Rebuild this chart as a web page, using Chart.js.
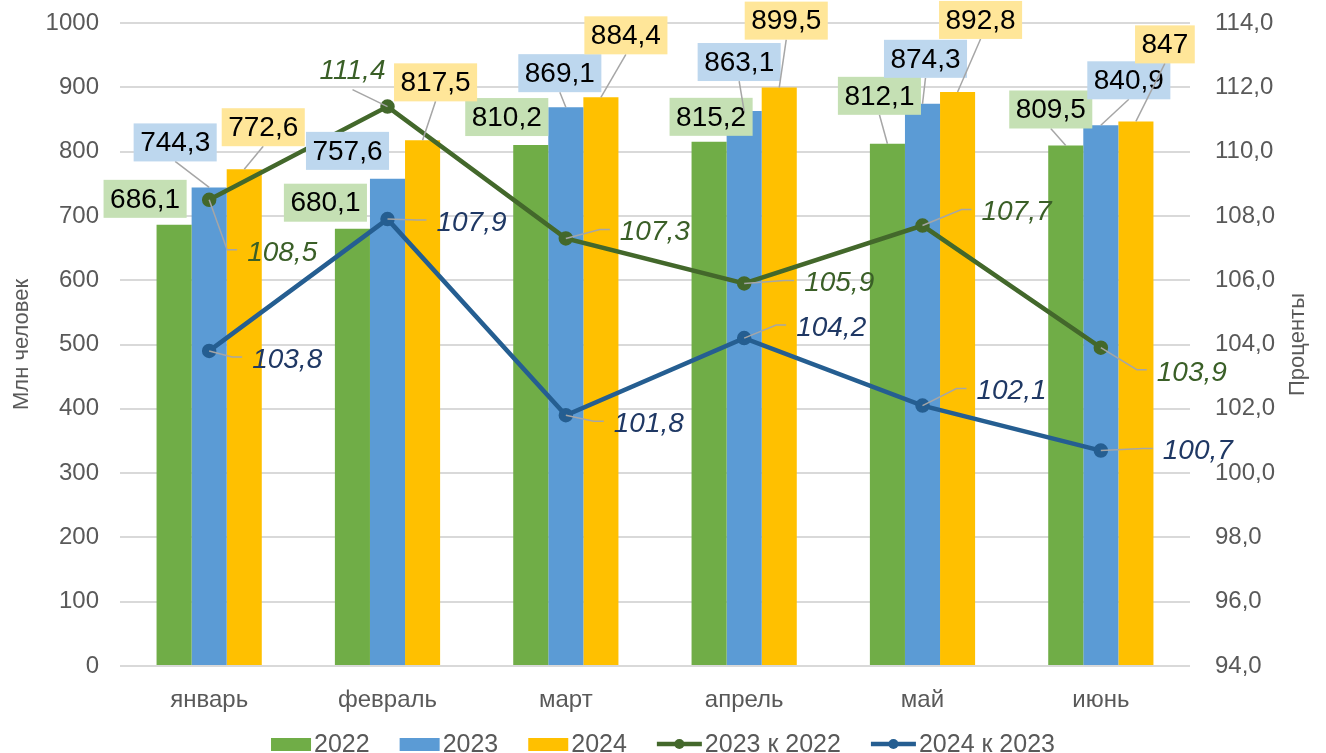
<!DOCTYPE html>
<html lang="ru">
<head>
<meta charset="utf-8">
<title>Пассажиропоток</title>
<script src="https://cdn.jsdelivr.net/npm/chart.js@4.4.1/dist/chart.umd.min.js"></script>
<style>
  html, body { margin: 0; padding: 0; background: #fff; }
  #wrap { width: 1326px; height: 753px; position: relative; }
</style>
</head>
<body>
<div id="wrap"><canvas id="chart"></canvas></div>
<script>
// -- ДАННЫЕ --
const months = ['январь', 'февраль', 'март', 'апрель', 'май', 'июнь'];
const v2022 = [686.1, 680.1, 810.2, 815.2, 812.1, 809.5];
const v2023 = [744.3, 757.6, 869.1, 863.1, 874.3, 840.9];
const v2024 = [772.6, 817.5, 884.4, 899.5, 892.8, 847];
const r2023to2022 = [108.5, 111.4, 107.3, 105.9, 107.7, 103.9];
const r2024to2023 = [103.8, 107.9, 101.8, 104.2, 102.1, 100.7];
const leftTicks = [0, 1000, 100];
const rightTicks = [94, 114, 2];

// -- РАСКЛАДКА ПОДПИСЕЙ (смещения от вершины столбца / точки) --
const barLabelShift = [
    [[-29, -26], [-27, -26], [-24, -28], [2, -25], [-8, -48], [-15, -36]],
    [[-34, -45], [-40, -28], [-6, -34], [-5, -49], [3, -45], [28, -45]],
    [[19, -42], [13, -58], [25, -62], [7, -67], [23, -72], [29, -77]]
];
const lineLabelShift = [
    [[73, 52], [-35, -36, 'bottom'], [89, -7], [95, -1], [94, -14], [91, 24]],
    [[78, 8], [84, 3], [83, 8], [87, -11], [89, -15], [97, 0]]
];

const FONT = '"Liberation Sans", Arial, sans-serif';
const AXIS_COLOR = '#595959';
const GREEN = '#70ad47', BLUE = '#5b9bd5', GOLD = '#ffc000';
const BOX_COLORS = ['#c5e0b4', '#bdd7ee', '#ffe699'];
const LINE_GREEN = '#43682b', LINE_BLUE = '#255e91';
const TEXT_COLORS = ['#3a5f27', '#1f3864'];

const fmt = v => String(v).replace('.', ',');

const labelsPlugin = {
    id: 'valueLabels',
    afterDatasetsDraw(chart) {
        const ctx = chart.ctx;
        ctx.save();
        ctx.textAlign = 'center';
        ctx.textBaseline = 'middle';

        // подписи столбцов в цветных рамках
        ctx.font = '28px ' + FONT;
        [0, 1, 2].forEach(di => {
            const meta = chart.getDatasetMeta(di);
            const values = chart.data.datasets[di].data;
            meta.data.forEach((bar, i) => {
                const [dx, dy] = barLabelShift[di][i];
                const cx = bar.x + dx, cy = bar.y + dy;
                const text = fmt(values[i]);
                const w = ctx.measureText(text).width + 13;
                const h = 38;
                const bottom = cy + h / 2;
                if (bar.y - bottom > 12) {
                    ctx.strokeStyle = '#a6a6a6';
                    ctx.lineWidth = 1.5;
                    ctx.beginPath();
                    ctx.moveTo(cx, bottom);
                    ctx.lineTo(bar.x, bar.y);
                    ctx.stroke();
                }
                ctx.fillStyle = BOX_COLORS[di];
                ctx.fillRect(cx - w / 2, cy - h / 2, w, h);
                ctx.fillStyle = '#000';
                ctx.fillText(text, cx, cy + 1);
            });
        });

        // курсивные подписи линий
        ctx.font = 'italic 28px ' + FONT;
        [3, 4].forEach((di, k) => {
            const meta = chart.getDatasetMeta(di);
            const values = chart.data.datasets[di].data;
            meta.data.forEach((pt, i) => {
                const [dx, dy, attach] = lineLabelShift[k][i];
                const cx = pt.x + dx, cy = pt.y + dy;
                const text = fmt(values[i]);
                const w = ctx.measureText(text).width;
                const left = cx - w / 2;
                ctx.strokeStyle = '#a6a6a6';
                ctx.lineWidth = 1.5;
                ctx.beginPath();
                ctx.moveTo(pt.x, pt.y);
                if (attach === 'bottom') {
                    ctx.lineTo(cx, cy + 19);
                } else {
                    ctx.lineTo(left - 20, cy - 2);
                    ctx.lineTo(left - 10, cy - 2);
                }
                ctx.stroke();
                ctx.fillStyle = TEXT_COLORS[k];
                ctx.fillText(text, cx, cy + 1);
            });
        });
        ctx.restore();
    },
    afterDraw(chart) {
        const ctx = chart.ctx;
        const area = chart.chartArea;
        ctx.save();

        // заголовок правой оси
        ctx.font = '22px ' + FONT;
        ctx.fillStyle = AXIS_COLOR;
        ctx.textAlign = 'center';
        ctx.textBaseline = 'middle';
        ctx.translate(chart.scales.y1.right - 28, (area.top + area.bottom) / 2);
        ctx.rotate(-Math.PI / 2);
        ctx.fillText('Проценты', 0, 0);
        ctx.setTransform(1, 0, 0, 1, 0, 0);

        // легенда
        ctx.font = '25px ' + FONT;
        ctx.textAlign = 'left';
        const items = chart.data.datasets.map(ds => ({
            text: ds.label,
            color: ds.type === 'line' ? ds.borderColor : ds.backgroundColor,
            line: ds.type === 'line'
        }));
        const gap = 30, mark = 40, markLine = 45;
        let total = 0;
        items.forEach(it => {
            it.w = (it.line ? markLine : mark) + 3 + ctx.measureText(it.text).width;
            total += it.w;
        });
        total += gap * (items.length - 1);
        let x = chart.width / 2 - total / 2;
        const y = 744;
        items.forEach(it => {
            ctx.fillStyle = it.color;
            if (it.line) {
                ctx.strokeStyle = it.color;
                ctx.lineWidth = 4.5;
                ctx.beginPath();
                ctx.moveTo(x, y);
                ctx.lineTo(x + markLine, y);
                ctx.stroke();
                ctx.beginPath();
                ctx.arc(x + markLine / 2, y, 5, 0, Math.PI * 2);
                ctx.fill();
                x += markLine + 3;
            } else {
                ctx.fillRect(x, y - 6, mark, 13);
                x += mark + 3;
            }
            ctx.fillStyle = AXIS_COLOR;
            ctx.fillText(it.text, x, y + 1);
            x += ctx.measureText(it.text).width + gap;
        });
        ctx.restore();
    }
};

document.addEventListener('DOMContentLoaded', function () {
    Chart.defaults.font.family = FONT;
    Chart.defaults.color = AXIS_COLOR;

    const barSet = (label, data, color) => ({
        type: 'bar', label, data,
        backgroundColor: color,
        yAxisID: 'y',
        order: 1,
        categoryPercentage: 0.59,
        barPercentage: 1
    });
    const lineSet = (label, data, color) => ({
        type: 'line', label, data,
        borderColor: color,
        backgroundColor: color,
        pointBackgroundColor: color,
        pointBorderColor: color,
        borderWidth: 4.5,
        pointRadius: 5,
        tension: 0,
        yAxisID: 'y1',
        order: 0
    });

    new Chart(document.getElementById('chart').getContext('2d'), {
        data: {
            labels: months,
            datasets: [
                barSet('2022', v2022, GREEN),
                barSet('2023', v2023, BLUE),
                barSet('2024', v2024, GOLD),
                lineSet('2023 к 2022', r2023to2022, LINE_GREEN),
                lineSet('2024 к 2023', r2024to2023, LINE_BLUE)
            ]
        },
        options: {
            responsive: true,
            maintainAspectRatio: false,
            animation: false,
            layout: { padding: { top: 23, left: 0, right: 0, bottom: 0 } },
            plugins: {
                legend: { display: false },
                tooltip: { enabled: false }
            },
            scales: {
                x: {
                    grid: { display: false },
                    border: { display: false },
                    ticks: { font: { size: 24 }, color: AXIS_COLOR, padding: 12 },
                    afterFit: s => { s.height = 87; }
                },
                y: {
                    position: 'left',
                    min: leftTicks[0], max: leftTicks[1],
                    ticks: {
                        stepSize: leftTicks[2], font: { size: 24 }, color: AXIS_COLOR, padding: 21,
                        callback: v => String(v)
                    },
                    grid: { color: '#d9d9d9', lineWidth: 2, drawTicks: false },
                    border: { display: false },
                    title: {
                        display: true, text: 'Млн человек',
                        font: { size: 22 }, color: AXIS_COLOR,
                        padding: { top: 9, bottom: 0 }
                    },
                    afterFit: s => { s.width = 120; s.paddingTop = 0; s.paddingBottom = 0; }
                },
                y1: {
                    position: 'right',
                    min: rightTicks[0], max: rightTicks[1],
                    ticks: {
                        stepSize: rightTicks[2], font: { size: 24 }, color: AXIS_COLOR, padding: 25,
                        callback: v => v.toFixed(1).replace('.', ',')
                    },
                    grid: { drawOnChartArea: false, drawTicks: false },
                    border: { display: false },
                    afterFit: s => { s.width = 136; s.paddingTop = 0; s.paddingBottom = 0; }
                }
            }
        },
        plugins: [labelsPlugin]
    });
});
</script>
</body>
</html>
